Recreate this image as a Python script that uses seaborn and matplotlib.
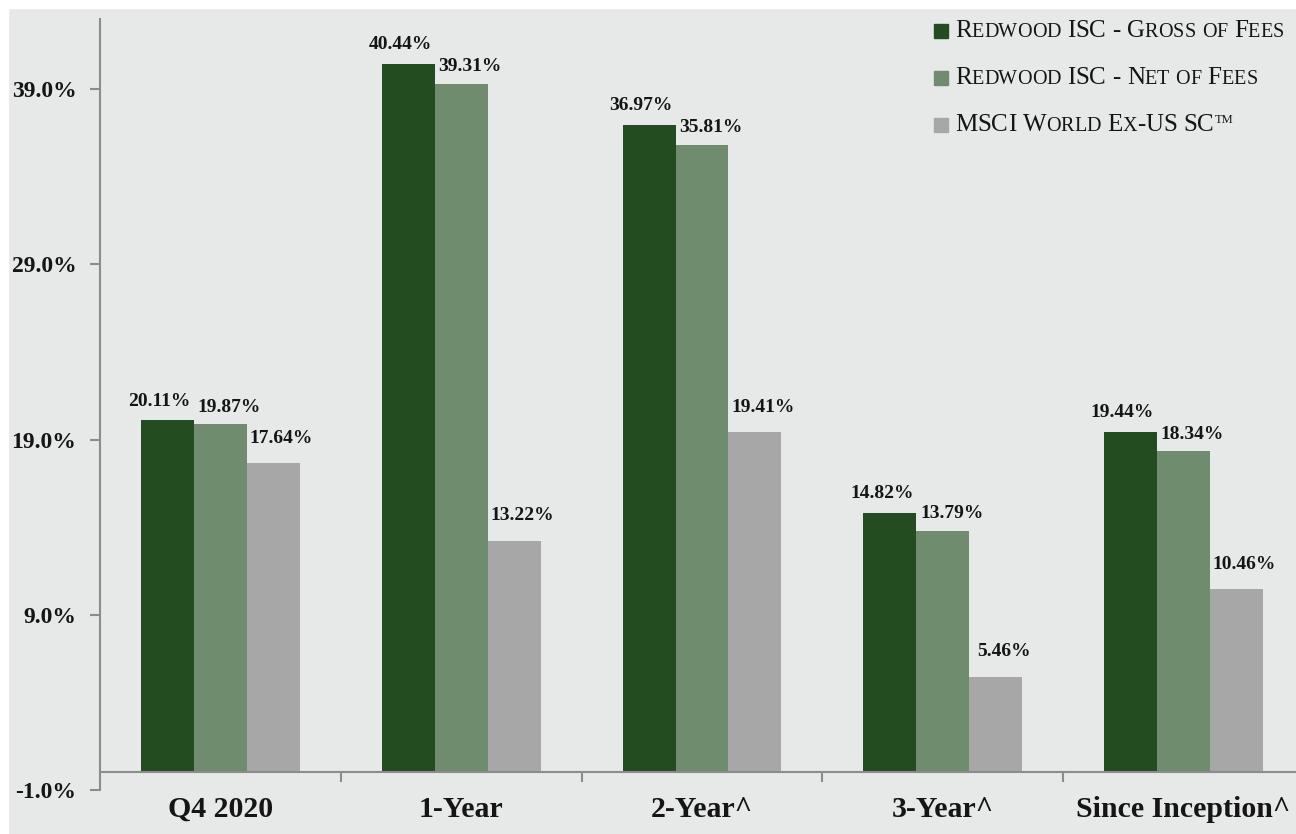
import matplotlib
matplotlib.use("Agg")
import matplotlib.pyplot as plt
import seaborn as sns
import pandas as pd
from matplotlib.patches import Rectangle
from matplotlib.offsetbox import TextArea, HPacker, AnchoredOffsetbox

# data
periods = ["Q4 2020", "1-Year", "2-Year^", "3-Year^", "Since Inception^"]
series = ["Redwood ISC - Gross of Fees", "Redwood ISC - Net of Fees", "MSCI World Ex-US SC"]
gross = [20.11, 40.44, 36.97, 14.82, 19.44]
net = [19.87, 39.31, 35.81, 13.79, 18.34]
index = [17.64, 13.22, 19.41, 5.46, 10.46]
yticks = [-1.0, 9.0, 19.0, 29.0, 39.0]
colors = ["#234c21", "#6f8c6f", "#a7a7a7"]

df = pd.DataFrame({
    "period": periods * 3,
    "series": [s for s in series for _ in periods],
    "value": gross + net + index,
})

SERIF = "Liberation Serif"
BG = "#e6e9e7"
SPINE = "#8c8c8c"
TXT = "#151515"

fig = plt.figure(figsize=(12.96, 8.34), dpi=100, facecolor=BG)
# thin white margin at the top and left
fig.patches.append(Rectangle((0, 1 - 8 / 834), 1, 8 / 834, transform=fig.transFigure,
                             color="white", zorder=0))
fig.patches.append(Rectangle((0, 0), 8 / 1296, 1, transform=fig.transFigure,
                             color="white", zorder=0))

ax = fig.add_axes([100 / 1296, 44 / 834, 1204 / 1296, 771 / 834])
ax.set_facecolor(BG)

sns.barplot(data=df, x="period", y="value", hue="series", hue_order=series,
            order=periods, palette=colors, width=0.66, saturation=1,
            legend=False, ax=ax)

# value labels (pixel offsets per series)
offsets = [(-8, 19), (9, 17), (8, 25)]
for cont, vals, (dx, dy) in zip(ax.containers, [gross, net, index], offsets):
    for bar, v in zip(cont, vals):
        ax.annotate(f"{v:.2f}%", (bar.get_x() + bar.get_width() / 2, bar.get_height()),
                    xytext=(dx, dy), textcoords="offset pixels", ha="center", va="center",
                    fontsize=14, fontweight="bold", family=SERIF, color=TXT)

# spines first: set_position resets the ticks
for s in ["top", "right"]:
    ax.spines[s].set_visible(False)
ax.spines["left"].set_color(SPINE)
ax.spines["left"].set_linewidth(1.5)
ax.spines["bottom"].set_color(SPINE)
ax.spines["bottom"].set_linewidth(1.5)
ax.spines["bottom"].set_position(("data", 0))

ax.set_xlim(-0.5, 4.5)
ax.set_ylim(-1, 43)
ax.set_yticks(yticks)
ax.set_yticklabels([f"{t:.1f}%" for t in yticks], fontsize=17, fontweight="bold",
                   family=SERIF, color=TXT)
ax.set_xticks(range(len(periods)))
ax.set_xticklabels(periods, fontsize=21.5, fontweight="bold", family=SERIF, color=TXT)
ax.set_xticks([0.5, 1.5, 2.5, 3.5], minor=True)
ax.set_xlabel("")
ax.set_ylabel("")

ax.tick_params(axis="y", length=7, width=1.5, color=SPINE, pad=10)
ax.tick_params(axis="x", which="major", length=0, pad=17)
ax.tick_params(axis="x", which="minor", length=7, width=1.5, color=SPINE)


def small_caps(label, big=18, small=14.5):
    parts = []
    for ch in label:
        if ch.islower():
            parts.append(TextArea(ch.upper(), textprops=dict(fontsize=small, family=SERIF, color=TXT)))
        else:
            parts.append(TextArea(ch, textprops=dict(fontsize=big, family=SERIF, color=TXT)))
    return HPacker(children=parts, align="baseline", pad=0, sep=0)


legend_rows = [31, 78, 125]
for lab, col, y in zip(series, colors, legend_rows):
    fig.patches.append(Rectangle((934 / 1296, 1 - (y + 7) / 834), 14 / 1296, 14 / 834,
                                 transform=fig.transFigure, color=col, zorder=3))
    box = small_caps(lab)
    if lab.startswith("MSCI"):
        tm = TextArea("TM", textprops=dict(fontsize=9, family=SERIF, color=TXT))
        box = HPacker(children=[box, tm], align="top", pad=0, sep=1)
    anch = AnchoredOffsetbox(loc="center left", child=box, frameon=False, pad=0, borderpad=0,
                             bbox_to_anchor=(955 / 1296, 1 - y / 834),
                             bbox_transform=fig.transFigure)
    fig.add_artist(anch)

fig.savefig("out.png", dpi=100, facecolor=BG)
